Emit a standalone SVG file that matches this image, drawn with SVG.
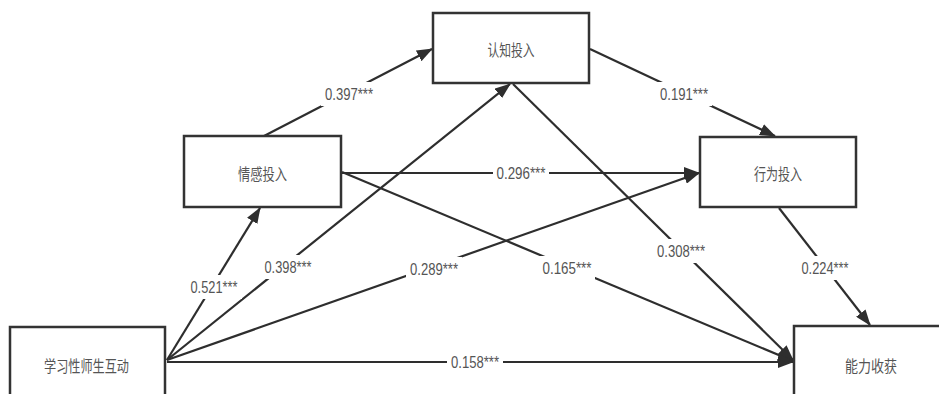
<svg xmlns="http://www.w3.org/2000/svg" width="939" height="394" viewBox="0 0 939 394">
  <defs>
    <marker id="arr" markerUnits="userSpaceOnUse" markerWidth="16" markerHeight="12" refX="15" refY="6" orient="auto">
      <path d="M0,0 L16,6 L0,12 Z" fill="#2e2e2e"/>
    </marker>
  </defs>
  <style>
    .node rect { fill: #ffffff; stroke: #333333; stroke-width: 2.5; }
    .node text { font-family: "Noto Sans CJK SC", "Liberation Sans", sans-serif; font-size: 16px; fill: #555555; text-anchor: middle; dominant-baseline: central; }
    .edge { stroke: #2e2e2e; stroke-width: 2.2; fill: none; marker-end: url(#arr); }
    .lbl rect { fill: #ffffff; }
    .lbl text { font-family: "Liberation Sans", "Noto Sans", sans-serif; font-size: 17px; fill: #555555; text-anchor: middle; dominant-baseline: central; }
  </style>
  <rect width="939" height="394" fill="#ffffff"/>

  <g id="connectors">
    <line class="edge" x1="167" y1="360" x2="260" y2="208"/>
    <line class="edge" x1="167" y1="360" x2="510" y2="84"/>
    <line class="edge" x1="167" y1="360" x2="699" y2="173"/>
    <line class="edge" x1="167" y1="362" x2="793" y2="362"/>
    <line class="edge" x1="264" y1="136" x2="432" y2="49"/>
    <line class="edge" x1="342" y1="173" x2="699" y2="173"/>
    <line class="edge" x1="342" y1="172" x2="793" y2="361"/>
    <line class="edge" x1="590" y1="49" x2="775" y2="136"/>
    <line class="edge" x1="513" y1="84" x2="793" y2="360"/>
    <line class="edge" x1="779" y1="208" x2="870" y2="325"/>
  </g>

  <g id="labels" class="lbl">
    <rect x="321" y="82" width="56" height="24"/><text x="349" y="94" textLength="48" lengthAdjust="spacingAndGlyphs">0.397***</text>
    <rect x="656" y="82" width="56" height="24"/><text x="684" y="94" textLength="48" lengthAdjust="spacingAndGlyphs">0.191***</text>
    <rect x="186" y="275" width="56" height="24"/><text x="214" y="287" textLength="47" lengthAdjust="spacingAndGlyphs">0.521***</text>
    <rect x="260" y="255" width="56" height="24"/><text x="288" y="267" textLength="47" lengthAdjust="spacingAndGlyphs">0.398***</text>
    <rect x="406" y="257" width="56" height="24"/><text x="434" y="269" textLength="48" lengthAdjust="spacingAndGlyphs">0.289***</text>
    <rect x="493" y="161" width="56" height="24"/><text x="521" y="173" textLength="49" lengthAdjust="spacingAndGlyphs">0.296***</text>
    <rect x="539" y="256" width="56" height="24"/><text x="567" y="268" textLength="49" lengthAdjust="spacingAndGlyphs">0.165***</text>
    <rect x="653" y="239" width="56" height="24"/><text x="681" y="251" textLength="48" lengthAdjust="spacingAndGlyphs">0.308***</text>
    <rect x="447" y="350" width="56" height="24"/><text x="475" y="362" textLength="48" lengthAdjust="spacingAndGlyphs">0.158***</text>
    <rect x="797" y="256" width="56" height="24"/><text x="825" y="268" textLength="47" lengthAdjust="spacingAndGlyphs">0.224***</text>
  </g>

  <g id="node-renzhi" class="node">
    <rect x="433" y="13" width="156" height="70"/>
    <text x="511" y="49" textLength="47" lengthAdjust="spacingAndGlyphs">认知投入</text>
  </g>
  <g id="node-qinggan" class="node">
    <rect x="184" y="136" width="157" height="71"/>
    <text x="262.5" y="173" textLength="49" lengthAdjust="spacingAndGlyphs">情感投入</text>
  </g>
  <g id="node-xingwei" class="node">
    <rect x="700" y="137" width="156" height="70"/>
    <text x="778" y="173" textLength="48" lengthAdjust="spacingAndGlyphs">行为投入</text>
  </g>
  <g id="node-xuexi" class="node">
    <rect x="10" y="327" width="155" height="78"/>
    <text x="86.5" y="365" textLength="85" lengthAdjust="spacingAndGlyphs">学习性师生互动</text>
  </g>
  <g id="node-nengli" class="node">
    <rect x="794" y="326" width="156" height="78"/>
    <text x="871" y="365" textLength="52" lengthAdjust="spacingAndGlyphs">能力收获</text>
  </g>
</svg>
